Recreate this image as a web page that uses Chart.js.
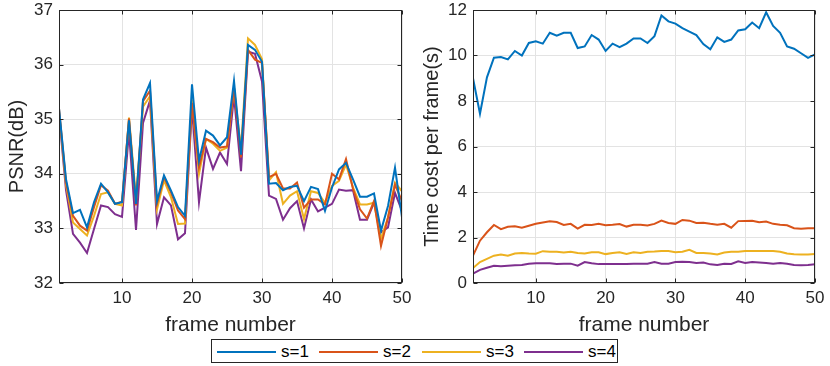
<!DOCTYPE html>
<html><head><meta charset="utf-8">
<script src="https://cdn.jsdelivr.net/npm/chart.js@4/dist/chart.umd.min.js"></script>
<style>
html,body{margin:0;padding:0;background:#fff;width:830px;height:366px;overflow:hidden;font-family:'Liberation Sans',Arial,sans-serif;}
.wrap{position:absolute;top:0;height:340px;width:415px;}
#legend{position:absolute;left:211px;top:339px;width:407px;height:24px;border:1px solid #262626;box-sizing:border-box;background:#fff;}
.ln{position:absolute;top:11px;height:2px;width:59px;}
.lt{position:absolute;top:2px;font-size:17px;color:#000;line-height:20px;white-space:nowrap;}
</style></head>
<body>
<div class="wrap" style="left:0"><canvas id="c1"></canvas></div>
<div class="wrap" style="left:415px"><canvas id="c2"></canvas></div>
<div id="legend"></div>
<script>
const frames = [1,2,3,4,5,6,7,8,9,10,11,12,13,14,15,16,17,18,19,20,21,22,23,24,25,26,27,28,29,30,31,32,33,34,35,36,37,38,39,40,41,42,43,44,45,46,47,48,49,50];
const seriesNames = ['s=1','s=2','s=3','s=4'];
const colors = ['#0072BD','#D95319','#EDB120','#7E2F8E'];
const xTicks = [10,20,30,40,50];

const psnr_s1 = [35.2,33.9,33.28,33.34,33.02,33.48,33.82,33.66,33.45,33.48,34.98,33.45,35.36,35.66,33.5,33.97,33.69,33.39,33.23,35.64,34.24,34.79,34.7,34.52,34.67,35.7,34.35,36.36,36.27,36.05,33.82,33.83,33.7,33.76,33.78,33.5,33.76,33.72,33.32,33.75,34.08,34.2,33.9,33.58,33.58,33.64,32.96,33.41,34.11,33.2];
const psnr_s2 = [35.2,33.85,33.23,33.05,32.96,33.39,33.79,33.69,33.45,33.49,35.01,33.42,35.33,35.52,33.45,33.94,33.66,33.33,33.17,35.3,34.12,34.64,34.58,34.48,34.5,35.58,34.3,36.27,36.09,36.03,33.94,34.0,33.73,33.73,33.84,33.38,33.53,33.53,33.44,34.0,33.9,34.27,33.72,33.35,33.18,33.5,32.68,33.2,33.8,33.5];
const psnr_s3 = [35.15,33.8,33.11,32.99,32.87,33.23,33.63,33.66,33.45,33.42,35.03,33.55,35.23,35.42,33.35,33.88,33.57,33.08,33.09,35.36,34.0,34.64,34.55,34.42,34.48,35.58,34.45,36.48,36.36,36.1,33.88,34.03,33.45,33.6,33.68,33.17,33.68,33.65,33.47,33.78,33.87,34.17,33.75,33.44,33.44,33.47,32.81,33.2,33.84,33.68];
const psnr_s4 = [35.1,33.7,32.9,32.74,32.55,32.99,33.42,33.39,33.26,33.21,34.77,32.97,34.93,35.34,33.08,33.57,33.42,32.8,32.91,35.21,33.48,34.48,34.09,34.39,34.18,35.42,34.05,36.24,36.2,35.69,33.6,33.54,33.16,33.37,33.5,33.0,33.53,33.31,33.38,33.45,33.71,33.69,33.7,33.16,33.16,33.47,32.93,33.02,33.65,33.32];

const time_s1 = [9.0,7.44,9.04,9.9,9.93,9.83,10.2,10.0,10.55,10.62,10.52,11.0,10.87,11.0,11.0,10.33,10.4,10.9,10.7,10.2,10.52,10.37,10.52,10.75,10.75,10.55,10.85,11.76,11.5,11.4,11.2,11.05,10.9,10.5,10.27,10.8,10.6,10.7,11.1,11.15,11.45,11.2,11.9,11.3,11.0,10.4,10.3,10.1,9.9,10.05];
const time_s2 = [1.2,1.86,2.23,2.55,2.37,2.47,2.49,2.43,2.52,2.6,2.66,2.71,2.68,2.55,2.6,2.39,2.56,2.55,2.6,2.54,2.56,2.59,2.48,2.56,2.56,2.53,2.6,2.74,2.64,2.6,2.77,2.74,2.64,2.65,2.6,2.56,2.6,2.43,2.72,2.73,2.74,2.67,2.7,2.6,2.56,2.54,2.41,2.39,2.41,2.41];
const time_s3 = [0.66,0.92,1.06,1.2,1.25,1.2,1.3,1.32,1.3,1.29,1.4,1.37,1.37,1.34,1.37,1.32,1.3,1.35,1.35,1.27,1.32,1.35,1.28,1.35,1.32,1.37,1.38,1.41,1.41,1.35,1.37,1.46,1.32,1.32,1.3,1.25,1.34,1.37,1.37,1.41,1.41,1.41,1.41,1.41,1.37,1.3,1.26,1.25,1.25,1.28];
const time_s4 = [0.41,0.58,0.67,0.76,0.74,0.76,0.78,0.79,0.85,0.87,0.87,0.87,0.84,0.85,0.85,0.76,0.92,0.87,0.83,0.84,0.84,0.83,0.83,0.85,0.85,0.85,0.92,0.85,0.85,0.92,0.93,0.92,0.88,0.9,0.82,0.79,0.85,0.84,0.95,0.88,0.92,0.9,0.88,0.85,0.88,0.85,0.79,0.78,0.79,0.82];

const psnrTicks = [32,33,34,35,36,37];
const timeTicks = [0,2,4,6,8,10,12];

Chart.defaults.font.family = "'Liberation Sans', Arial, Helvetica, sans-serif";
Chart.defaults.color = '#262626';

const boxPlugin = {
  id: 'box',
  afterDraw(chart) {
    const {ctx, chartArea: a, scales: {x, y}} = chart;
    ctx.save();
    ctx.strokeStyle = '#262626';
    ctx.lineWidth = 1;
    const L = Math.round(a.left) + 0.5, R = Math.round(a.right) - 0.5, T = Math.round(a.top) + 0.5, B = Math.round(a.bottom) - 0.5;
    ctx.strokeRect(L, T, R - L, B - T);
    const tl = 4;
    ctx.beginPath();
    x.ticks.forEach(t => {
      const px = Math.round(x.getPixelForValue(t.value)) + 0.5;
      ctx.moveTo(px, B); ctx.lineTo(px, B - tl);
      ctx.moveTo(px, T); ctx.lineTo(px, T + tl);
    });
    y.ticks.forEach(t => {
      const py = Math.round(y.getPixelForValue(t.value)) + 0.5;
      ctx.moveTo(L, py); ctx.lineTo(L + tl, py);
      ctx.moveTo(R, py); ctx.lineTo(R - tl, py);
    });
    ctx.stroke();
    ctx.restore();
  }
};

function makeChart(id, seriesList, yMin, yMax, yTickVals, yTitle, yWidth, padRight) {
  const datasets = seriesList.map((vals, i) => ({
    label: seriesNames[i],
    data: frames.map((f, k) => ({x: f, y: vals[k]})),
    borderColor: colors[i],
    backgroundColor: colors[i],
    borderWidth: 2,
    pointRadius: 0,
    tension: 0,
    fill: false
  }));
  return new Chart(document.getElementById(id), {
    type: 'line',
    data: {datasets},
    plugins: [boxPlugin],
    options: {
      responsive: true,
      maintainAspectRatio: false,
      animation: false,
      layout: {padding: {left: 0, top: 10, right: padRight, bottom: 0}},
      plugins: {legend: {display: false}, tooltip: {enabled: false}},
      scales: {
        x: {
          type: 'linear', min: 1, max: 50,
          afterBuildTicks: s => { s.ticks = xTicks.map(v => ({value: v})); },
          afterFit: s => { s.height = 57; s.paddingLeft = 0; s.paddingRight = 0; },
          grid: {color: '#e3e3e3', lineWidth: 1, drawTicks: false},
          border: {display: false},
          ticks: {padding: 5, font: {size: 17}, color: '#262626', maxRotation: 0},
          title: {display: true, text: 'frame number', font: {size: 21}, color: '#262626', padding: {top: 0, bottom: 2}}
        },
        y: {
          type: 'linear', min: yMin, max: yMax,
          afterBuildTicks: s => { s.ticks = yTickVals.map(v => ({value: v})); },
          afterFit: s => { s.width = yWidth; s.paddingTop = 0; s.paddingBottom = 0; },
          grid: {color: '#e3e3e3', lineWidth: 1, drawTicks: false},
          border: {display: false},
          ticks: {padding: 6, font: {size: 17}, color: '#262626'},
          title: {display: true, text: yTitle, font: {size: 20}, color: '#262626', padding: {top: 5, bottom: 0}}
        }
      }
    }
  });
}

makeChart('c1', [psnr_s1, psnr_s2, psnr_s3, psnr_s4], 32, 37, psnrTicks, 'PSNR(dB)', 59, 13);
makeChart('c2', [time_s1, time_s2, time_s3, time_s4], 0, 12, timeTicks, 'Time cost per frame(s)', 58, 15);

// legend (HTML)
const leg = document.getElementById('legend');
const legLeft = [5, 107, 210, 312];
seriesNames.forEach((n, i) => {
  const ln = document.createElement('div');
  ln.className = 'ln'; ln.style.left = legLeft[i] + 'px'; ln.style.background = colors[i];
  const lt = document.createElement('div');
  lt.className = 'lt'; lt.style.left = (legLeft[i] + 64) + 'px'; lt.textContent = n;
  leg.appendChild(ln); leg.appendChild(lt);
});
</script>
</body></html>
